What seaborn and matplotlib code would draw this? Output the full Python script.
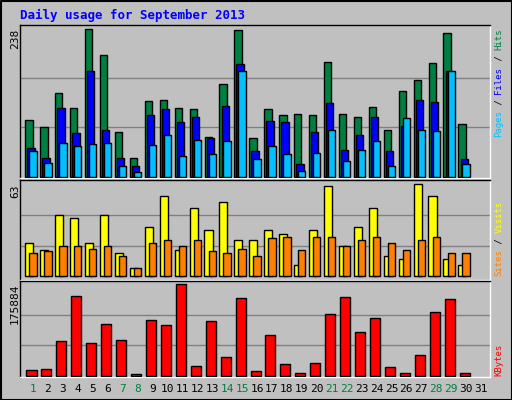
import numpy as np
import matplotlib
matplotlib.use("Agg")
import matplotlib.pyplot as plt
import seaborn as sns

days = list(range(1, 32))
weekend_days = [1, 7, 8, 14, 15, 21, 22, 28, 29]

hits = [91, 80, 135, 110, 238, 196, 72, 31, 122, 123, 110, 109, 64, 149, 236,
        62, 109, 99, 101, 99, 185, 101, 97, 112, 75, 138, 156, 183, 232, 85, 0]
files = [46, 31, 110, 70, 170, 76, 30, 17, 99, 109, 88, 96, 62, 114, 181,
         41, 89, 88, 20, 72, 118, 43, 68, 96, 41, 81, 123, 120, 170, 28, 0]
pages = [41, 22, 55, 49, 52, 55, 17, 7, 51, 67, 34, 59, 36, 57, 170,
         28, 49, 36, 9, 39, 75, 26, 43, 57, 17, 94, 76, 73, 170, 20, 0]
visits = [23, 18, 42, 40, 23, 42, 16, 6, 34, 55, 18, 47, 32, 51, 25,
          25, 32, 29, 8, 32, 62, 21, 34, 47, 14, 12, 63, 55, 12, 8, 0]
sites = [16, 17, 21, 21, 19, 21, 14, 6, 23, 25, 21, 25, 17, 16, 19,
         14, 26, 27, 18, 27, 27, 21, 25, 27, 23, 18, 25, 27, 16, 16, 0]
kbytes = [10270, 12200, 66100, 152800, 62300, 98900, 68000, 2600, 106600, 96900,
          175884, 18000, 104600, 35300, 148900, 8300, 77700, 21800, 4500, 23700,
          118100, 150800, 83400, 110400, 16000, 4500, 39200, 122000, 147000, 4500, 0]

BG = "#C0C0C0"
FONT = "DejaVu Sans Mono"
sns.set_style("white")
plt.rcParams["font.family"] = [FONT]

W, H = 512, 400
fig = plt.figure(figsize=(W / 100, H / 100), dpi=100, facecolor=BG)


def panel(top, bottom):
    ax = fig.add_axes([20 / W, 1 - bottom / H, 470 / W, (bottom - top) / H])
    ax.set_facecolor(BG)
    for s in ["left", "top"]:
        ax.spines[s].set_color("black")
    for s in ["right", "bottom"]:
        ax.spines[s].set_color("white")
    for sp in ax.spines.values():
        sp.set_linewidth(1)
    return ax


def bars(ax, vals, offset, width, color):
    x = np.array(days) + offset
    v = np.array(vals)
    keep = v > 0
    sns.barplot(x=x[keep], y=v[keep], native_scale=True, width=width,
                color=color, edgecolor="black", linewidth=1, saturation=1,
                ax=ax, zorder=3)


def grid(ax, top):
    for f in (1 / 3, 2 / 3):
        ax.axhline(top * f, color="#808080", lw=1, zorder=1)


# top panel
ax1 = panel(25, 178)
grid(ax1, 238)
bars(ax1, hits, -0.27, 0.49, "#008040")
bars(ax1, files, -0.13, 0.49, "#0000FF")
bars(ax1, pages, 0.0, 0.49, "#00C0FF")
ax1.set_ylim(-2, 244.4)

# middle panel
ax2 = panel(180, 280)
grid(ax2, 63)
bars(ax2, visits, -0.25, 0.54, "#FFFF00")
bars(ax2, sites, 0.0, 0.49, "#FF8000")
ax2.set_ylim(-2.5, 65.9)

# bottom panel
ax3 = panel(281, 377)
grid(ax3, 175884)
bars(ax3, kbytes, -0.1, 0.67, "#FF0000")
ax3.set_ylim(-2500, 182200)
for ax in (ax1, ax2, ax3):
    ax.set_xlim(0.13, 31.6)
    ax.set_xlabel("")
    ax.set_ylabel("")
    ax.set_xticks([])
    ax.set_yticks([])

# texts
fs = 8
fig.text(20 / W, 1 - 15 / H, "Daily usage for September 2013", color="#0000FF",
         fontsize=9, fontweight="bold", va="center", ha="left")
for label, y in [("238", 29), ("63", 184), ("175884", 284)]:
    fig.text(15 / W, 1 - y / H, label, rotation=90, fontsize=fs,
             ha="center", va="top", color="black")

rfs = 6.5
char_px = rfs * 0.602 * 100 / 72


def right_label(pieces, ybottom):
    y = ybottom
    for txt, col in pieces:
        fig.text(499 / W, 1 - y / H, txt, rotation=90, fontsize=rfs,
                 color=col, ha="center", va="bottom")
        y -= len(txt) * char_px


right_label([("Pages", "#00C0FF"), (" / ", "black"), ("Files", "#0000FF"),
             (" / ", "black"), ("Hits", "#008040")], 137)
right_label([("Sites", "#FF8000"), (" / ", "black"), ("Visits", "#FFFF00")], 276)
right_label([("KBytes", "#FF0000")], 376)

for d in days:
    x = (20 + (d - 0.13) * 470 / 31.47) / W
    fig.text(x, 1 - 389 / H, str(d), fontsize=fs, ha="center", va="center",
             color="#008040" if d in weekend_days else "black")

# outer frame
fig.add_artist(plt.Line2D([0.5 / W, 0.5 / W, 1 - 0.5 / W, 1 - 0.5 / W, 0.5 / W],
                          [0.5 / H, 1 - 0.5 / H, 1 - 0.5 / H, 0.5 / H, 0.5 / H],
                          color="black", lw=1.5, transform=fig.transFigure))

fig.savefig("out.png", dpi=100, facecolor=BG)
